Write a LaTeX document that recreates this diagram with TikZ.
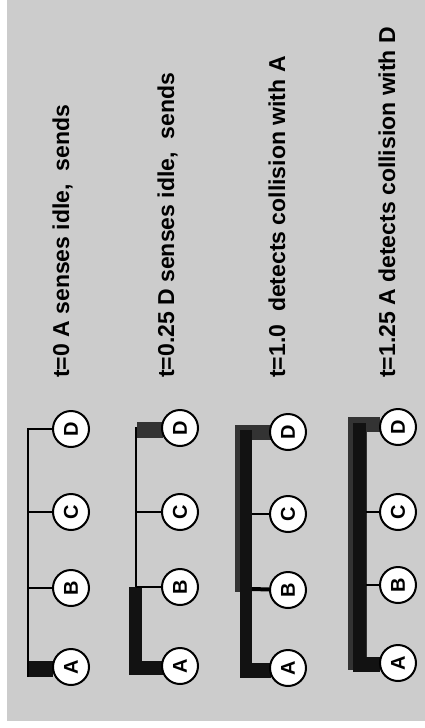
\documentclass[tikz,border=0pt]{standalone}
\usepackage{fontspec}
\setmainfont{Liberation Sans}
\begin{document}
\begin{tikzpicture}[x=1pt,y=-1pt,
  station/.style={circle,draw=black,line width=2pt,fill=white,minimum size=36pt,inner sep=0pt,
    font=\fontsize{20}{20}\selectfont\bfseries,rotate=90},
  caption/.style={anchor=base west,rotate=90,inner sep=0pt,font=\fontsize{23}{23}\selectfont\bfseries},
  wire/.style={line width=2.4pt,black},
  sig/.style={fill=black!93},
  echo/.style={fill=black!80}]
\useasboundingbox (0,0) rectangle (425,728);
\fill[white] (0,0) rectangle (425,728);
\fill[black!20] (7,0) rectangle (425,721);

% captions
\node[caption] (t1) at (69,378) {t=0 A senses idle,\ \ sends};
\node[caption] (t2) at (174,378) {t=0.25 D senses idle,\ \ sends};
\node[caption] (t3) at (285,378) {t=1.0\ \ detects collision with A};
\node[caption] (t4) at (395,378) {t=1.25 A detects collision with D};

% panel 1: t=0
\fill[sig] (27,661) rectangle (53,677);
\coordinate (b1top) at (28,428);
\coordinate (b1bot) at (28,677);
\draw[wire] (b1top) -- (b1bot);
\node[station] (a1) at (71,667) {A};
\node[station] (bb1) at (71,588) {B};
\node[station] (c1) at (71,512) {C};
\node[station] (d1) at (71,429) {D};
\draw[wire] (28,429) -- (d1);
\draw[wire] (28,512) -- (c1);
\draw[wire] (28,588) -- (bb1);

% panel 2: t=0.25
\coordinate (b2top) at (136,427);
\coordinate (b2bot) at (136,588);
\draw[wire] (b2top) -- (b2bot);
\fill[echo] (137,422) rectangle (163,438);
\fill[sig] (129,587) rectangle (142,675);
\fill[sig] (129,661) rectangle (163,675);
\node[station] (a2) at (180,666) {A};
\node[station] (bb2) at (180,587) {B};
\node[station] (c2) at (180,512) {C};
\node[station] (d2) at (180,428) {D};
\draw[wire] (136,512) -- (c2);
\draw[wire] (136,587) -- (bb2);

% panel 3: t=1.0
\fill[echo] (235,425) rectangle (252,592);
\fill[echo] (252,425) rectangle (271,440);
\fill[sig] (240,430) rectangle (252,678);
\fill[sig] (240,663) rectangle (271,678);
\node[station] (a3) at (288,668) {A};
\node[station] (bb3) at (288,590) {B};
\node[station] (c3) at (288,514) {C};
\node[station] (d3) at (288,432) {D};
\draw[wire] (252,514) -- (c3);
\draw[wire,line width=4pt] (252,589) -- (bb3);

% panel 4: t=1.25
\fill[echo] (348,417) rectangle (367,670);
\fill[echo] (366,417) rectangle (380,432);
\fill[sig] (353,423) rectangle (366,672);
\fill[sig] (353,657) rectangle (380,672);
\node[station] (a4) at (398,663) {A};
\node[station] (bb4) at (398,585) {B};
\node[station] (c4) at (398,512) {C};
\node[station] (d4) at (398,427) {D};
\draw[wire] (366,512) -- (c4);
\draw[wire] (366,585) -- (bb4);
\end{tikzpicture}
\end{document}
